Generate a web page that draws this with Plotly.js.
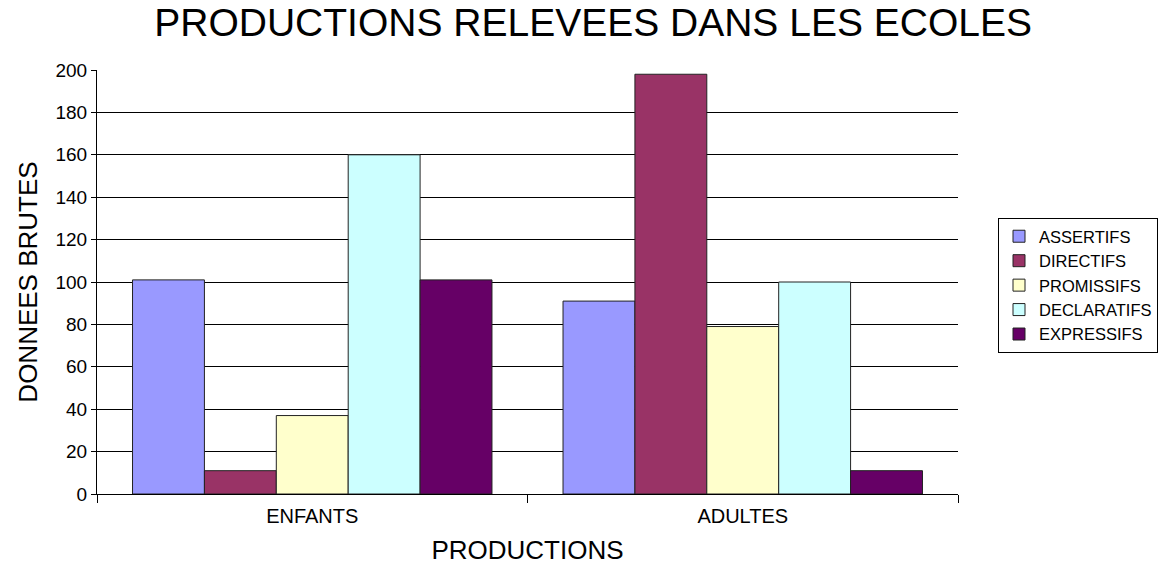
<!DOCTYPE html>
<html>
<head>
<meta charset="utf-8">
<script src="https://cdn.plot.ly/plotly-3.0.1.min.js"></script>
<style>html,body{margin:0;padding:0;background:#fff;}#chart{width:1163px;height:567px;}</style>
</head>
<body>
<div id="chart"></div>
<script>
const categories = ["ENFANTS", "ADULTES"];
const seriesNames = ["ASSERTIFS", "DIRECTIFS", "PROMISSIFS", "DECLARATIFS", "EXPRESSIFS"];
const assertifs = [101, 91];
const directifs = [11, 198];
const promissifs = [37, 79];
const declaratifs = [160, 100];
const expressifs = [101, 11];
const yTicks = [0, 20, 40, 60, 80, 100, 120, 140, 160, 180, 200];

const colors = ["#9999FF", "#993366", "#FFFFCC", "#CCFFFF", "#660066"];
const values = [assertifs, directifs, promissifs, declaratifs, expressifs];

const traces = seriesNames.map((name, i) => ({
  type: "bar",
  name: name,
  x: categories,
  y: values[i],
  marker: { color: colors[i], line: { color: "#222222", width: 1 } }
}));

const font = "Liberation Sans, Arial, sans-serif";
const layout = {
  width: 1163, height: 567,
  margin: { l: 97, r: 205, t: 70, b: 73, autoexpand: false },
  paper_bgcolor: "#fff", plot_bgcolor: "#fff",
  barmode: "group", bargap: 0.165, bargroupgap: 0,
  font: { family: font, color: "#000" },
  title: { text: "PRODUCTIONS RELEVEES DANS LES ECOLES", font: { size: 39, family: font, color: "#000" }, x: 0.51, xanchor: "center", y: 0.96, yanchor: "middle" },
  xaxis: {
    type: "category",
    showline: true, linecolor: "#000", linewidth: 1,
    showgrid: false,
    ticks: "outside", ticklen: 8, tickcolor: "#000", tickson: "boundaries",
    tickfont: { size: 20, family: font },
    ticklabelstandoff: 4,
    title: { text: "PRODUCTIONS", font: { size: 26, family: font }, standoff: 14 }
  },
  yaxis: {
    range: [0, 200], tickvals: yTicks,
    showline: true, linecolor: "#000", linewidth: 1,
    showgrid: true, gridcolor: "#000", gridwidth: 1,
    zeroline: false,
    ticks: "outside", ticklen: 5, tickcolor: "#000",
    tickfont: { size: 19, family: font },
    title: { text: "DONNEES BRUTES", font: { size: 26, family: font }, standoff: 10 }
  },
  legend: {
    xref: "container", x: 998 / 1163, xanchor: "left",
    yref: "container", y: 1 - 218 / 567, yanchor: "top",
    bordercolor: "#000", borderwidth: 1, bgcolor: "#fff",
    font: { size: 16.5, family: font }, tracegroupgap: 0,
    itemwidth: 30
  },
  showlegend: true
};

Plotly.newPlot("chart", traces, layout, { displayModeBar: false, staticPlot: true });
</script>
</body>
</html>
